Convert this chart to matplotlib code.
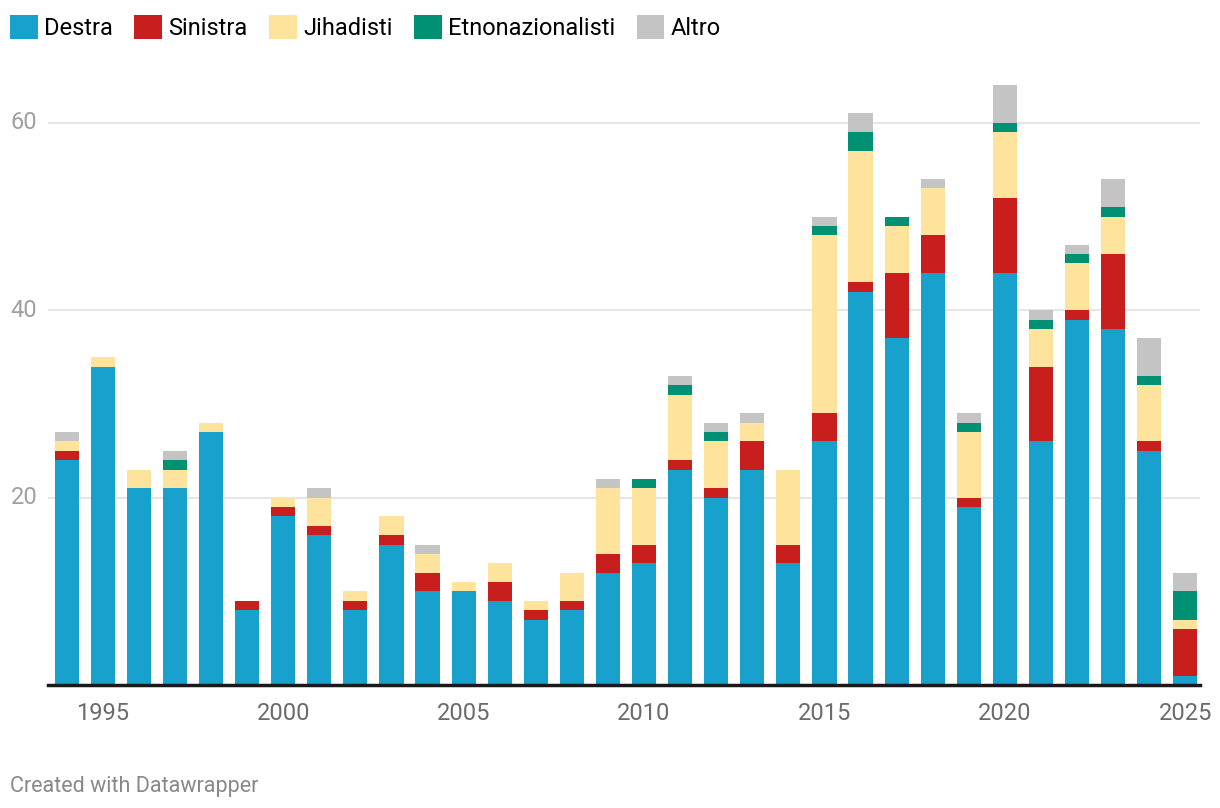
import numpy as np
import matplotlib.pyplot as plt

plt.rcParams['font.family'] = ['Roboto', 'DejaVu Sans']

years = list(range(1994, 2026))
destra = [24, 34, 21, 21, 27, 8, 18, 16, 8, 15, 10, 10, 9, 7, 8, 12,
          13, 23, 20, 23, 13, 26, 42, 37, 44, 19, 44, 26, 39, 38, 25, 1]
sinistra = [1, 0, 0, 0, 0, 1, 1, 1, 1, 1, 2, 0, 2, 1, 1, 2,
            2, 1, 1, 3, 2, 3, 1, 7, 4, 1, 8, 8, 1, 8, 1, 5]
jihadisti = [1, 1, 2, 2, 1, 0, 1, 3, 1, 2, 2, 1, 2, 1, 3, 7,
             6, 7, 5, 2, 8, 19, 14, 5, 5, 7, 7, 4, 5, 4, 6, 1]
etno = [0, 0, 0, 1, 0, 0, 0, 0, 0, 0, 0, 0, 0, 0, 0, 0,
        1, 1, 1, 0, 0, 1, 2, 1, 0, 1, 1, 1, 1, 1, 1, 3]
altro = [1, 0, 0, 1, 0, 0, 0, 1, 0, 0, 1, 0, 0, 0, 0, 1,
         0, 1, 1, 1, 0, 1, 2, 0, 1, 1, 4, 1, 1, 3, 4, 2]

series = [('Destra', destra, '#18a1cd'),
          ('Sinistra', sinistra, '#c91e1e'),
          ('Jihadisti', jihadisti, '#fee39c'),
          ('Etnonazionalisti', etno, '#009175'),
          ('Altro', altro, '#c4c4c4')]

fig = plt.figure(figsize=(12.2, 8.08), dpi=100)
ax = fig.add_axes([0.039, 0.152, 0.945, 0.754])

bottom = np.zeros(len(years))
for name, vals, col in series:
    ax.bar(years, vals, bottom=bottom, width=0.67, color=col, label=name, zorder=2)
    bottom += np.array(vals)

ax.set_xlim(1993.47, 2025.42)
ax.set_ylim(0, 65)

for s in ['top', 'right', 'left']:
    ax.spines[s].set_visible(False)
ax.spines['bottom'].set_linewidth(2.5)
ax.spines['bottom'].set_color('#1a1a1a')
ax.spines['bottom'].set_zorder(3)

for v in [20, 40, 60]:
    ax.axhline(v, color='#e6e6e6', lw=1.5, zorder=1)
    ax.text(-0.032, v, str(v), transform=ax.get_yaxis_transform(),
            ha='left', va='center', fontsize=17, color='#a0a0a0')
ax.set_yticks([])

ax.set_xticks(list(range(1995, 2026, 5)))
ax.tick_params(axis='x', length=0, pad=12, labelsize=17, labelcolor='#6b6b6b')

handles, labels = ax.get_legend_handles_labels()
fig.legend(handles, labels, loc='upper left', bbox_to_anchor=(10 / 1220, 1 - 15 / 808),
           ncol=5, frameon=False, fontsize=17, handlelength=1.17, handleheight=1.17,
           handletextpad=0.28, columnspacing=0.9, borderpad=0, borderaxespad=0)

fig.text(0.008, 0.014, 'Created with Datawrapper', fontsize=15.5, color='#888888',
         ha='left', va='bottom')

fig.savefig('out.png', dpi=100)
